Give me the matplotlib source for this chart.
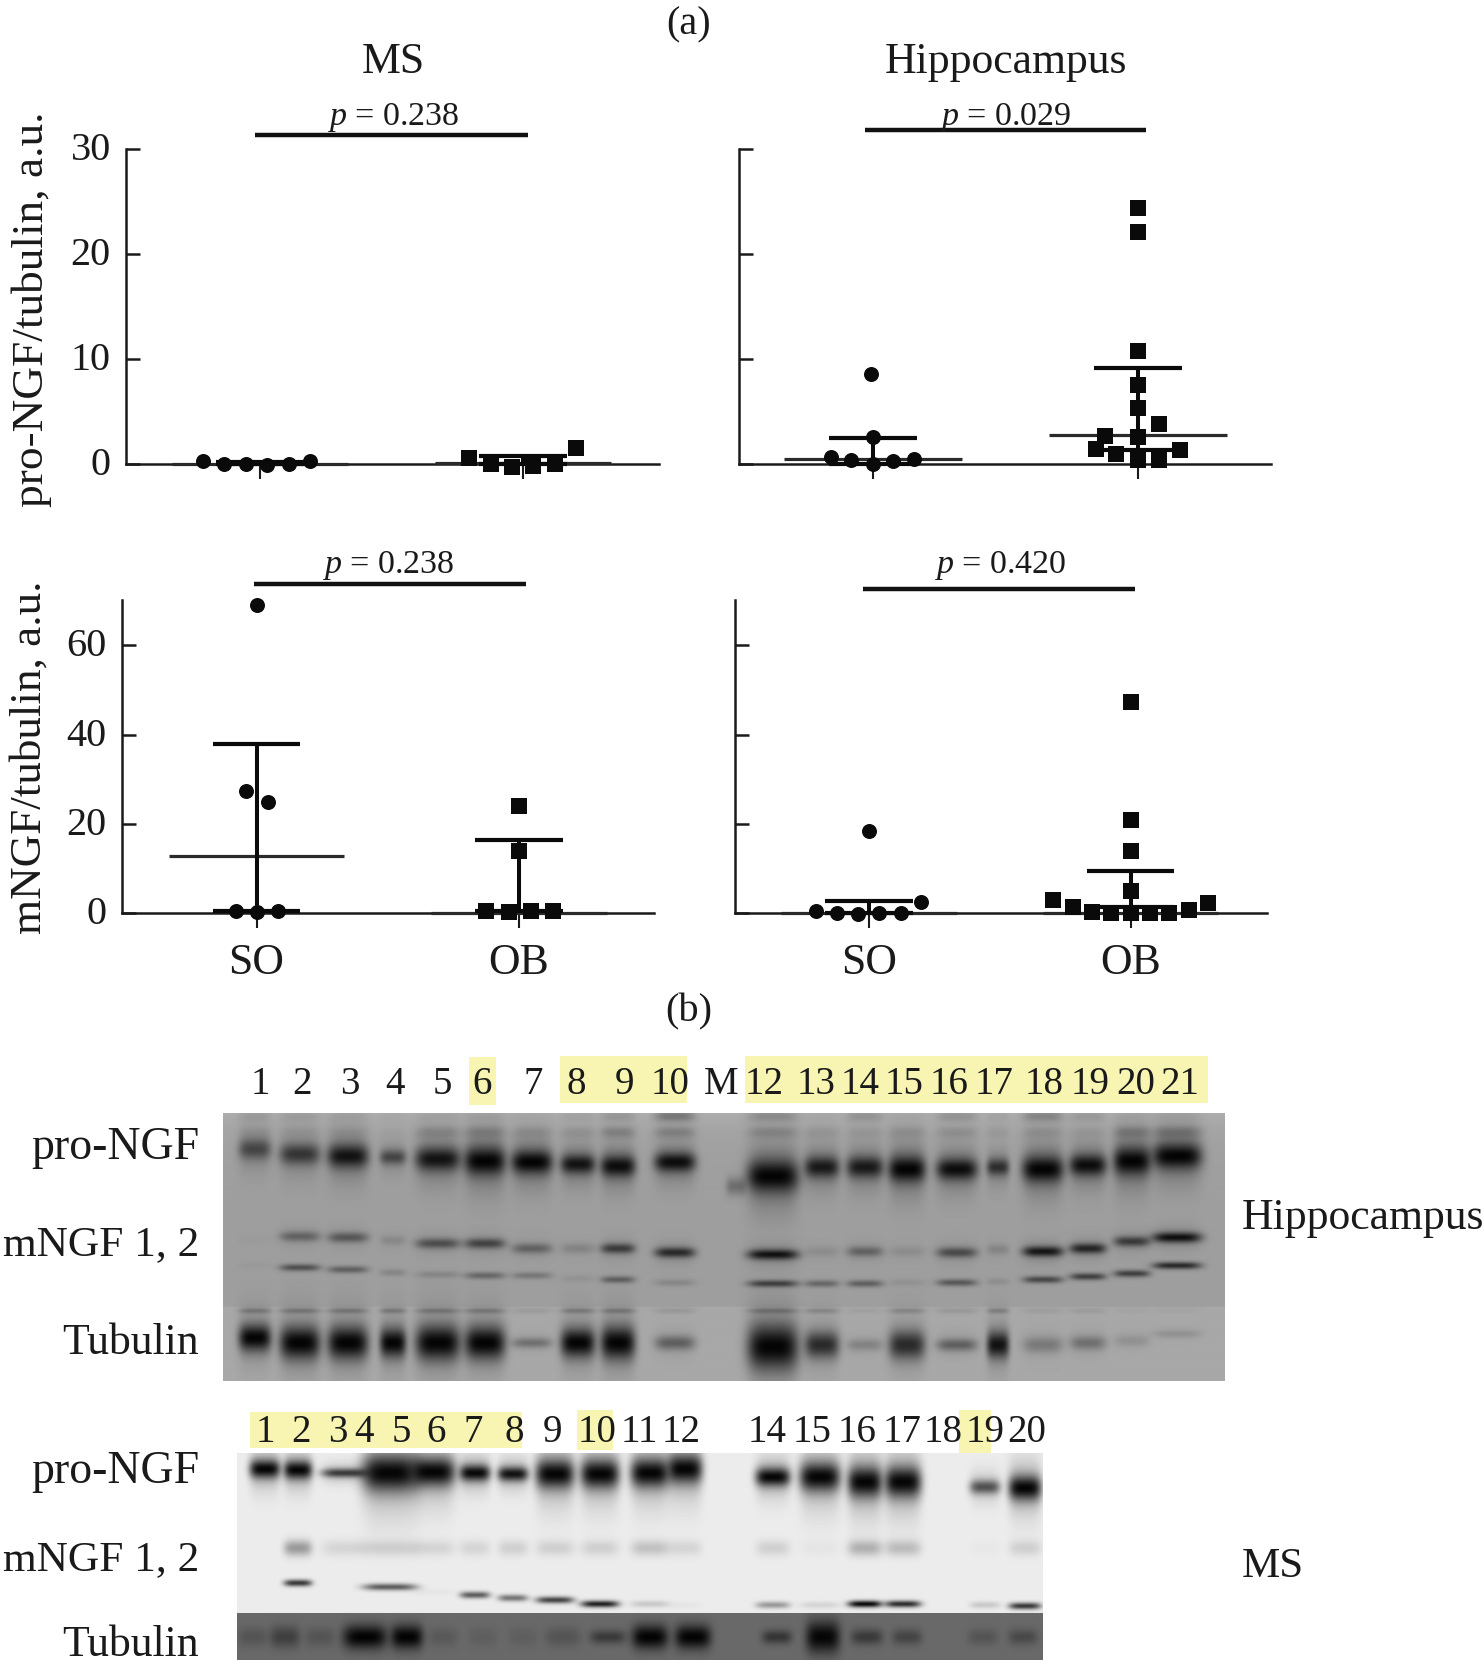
import numpy as np
import matplotlib
matplotlib.use("Agg")
import matplotlib.pyplot as plt
from matplotlib.lines import Line2D
from matplotlib.patches import Rectangle
from matplotlib.transforms import ScaledTranslation

W, H = 1484, 1670

plt.rcParams['font.family'] = ['Liberation Serif', 'DejaVu Serif']
plt.rcParams['mathtext.fontset'] = 'custom'
plt.rcParams['mathtext.it'] = 'Liberation Serif:italic'
plt.rcParams['mathtext.rm'] = 'Liberation Serif'

# --- scatter data, x is the jitter around the group position ---
groups = ['SO', 'OB']
pro_ticks = [0, 10, 20, 30]
m_ticks = [0, 20, 40, 60]

ms_pro_so_x = [-0.217, -0.137, -0.053, 0.027, 0.11, 0.19]
ms_pro_so_y = [0.3, 0.0, 0.0, -0.1, 0.0, 0.3]
ms_pro_ob_x = [-0.207, -0.122, -0.043, 0.038, 0.122, 0.2]
ms_pro_ob_y = [0.57, 0.03, -0.25, -0.16, 0.03, 1.5]

hip_pro_so_x = [-0.008, 0.0, -0.16, -0.084, 0.0, 0.077, 0.156]
hip_pro_so_y = [8.57, 2.54, 0.67, 0.35, 0.0, 0.25, 0.5]
hip_pro_ob_x = [0, 0, 0, 0, 0, 0, 0, 0.08, 0.08, -0.125, -0.16, -0.082, 0.16]
hip_pro_ob_y = [24.4, 22.06, 10.8, 7.55, 5.37, 2.54, 0.41, 3.8, 0.41, 2.7, 1.46, 0.98, 1.33]

ms_m_so_x = [0.0, -0.04, 0.043, -0.08, 0.0, 0.081]
ms_m_so_y = [69.1, 27.45, 24.8, 0.45, 0.3, 0.45]
ms_m_ob_x = [0.0, 0.0, -0.125, -0.04, 0.044, 0.13]
ms_m_ob_y = [23.9, 13.9, 0.45, 0.3, 0.45, 0.45]

hip_m_so_x = [0.0, 0.198, -0.204, -0.122, -0.041, 0.04, 0.121]
hip_m_so_y = [18.3, 2.47, 0.45, 0.0, -0.2, 0.0, 0.1]
hip_m_ob_x = [0, 0, 0, 0, -0.296, -0.22, -0.148, -0.074, 0, 0.074, 0.148, 0.222, 0.296]
hip_m_ob_y = [47.3, 20.8, 13.9, 4.86, 3.0, 1.35, 0.2, -0.1, -0.1, -0.1, -0.1, 0.75, 2.25]

# centre line, lower whisker, upper whisker for SO then OB
ms_pro_stats = [(0.0, 0.0, 0.2), (0.1, 0.0, 0.8)]
hip_pro_stats = [(0.5, 0.0, 2.5), (2.73, 1.3, 9.17)]
ms_m_stats = [(12.86, 0.4, 38.0), (0.0, 0.4, 16.45)]
hip_m_stats = [(0.0, 0.0, 2.6), (0.0, 1.4, 9.5)]

p_values = ['0.238', '0.029', '0.238', '0.420']

# --- western blot data, darkness of each band per lane (0 = none, 1 = black) ---
hip_lanes = ['1', '2', '3', '4', '5', '6', '7', '8', '9', '10', 'M', '12', '13', '14', '15', '16', '17', '18', '19', '20', '21']
ms_lanes = ['1', '2', '3', '4', '5', '6', '7', '8', '9', '10', '11', '12', '14', '15', '16', '17', '18', '19', '20']

hip_x = [255, 300, 348, 393, 438, 485, 532, 578, 618, 675, 773, 822, 865, 907, 957, 998, 1043, 1088, 1132, 1177]
hip_w = [16, 20, 20, 13, 22, 20, 20, 17, 17, 20, 25, 17, 18, 18, 20, 11, 20, 18, 18, 24]
hip_pro_y = [1150, 1155, 1157, 1158, 1160, 1162, 1163, 1165, 1167, 1163, 1177, 1168, 1168, 1170, 1170, 1168, 1170, 1166, 1162, 1157]
hip_pro_d = [.5, .6, .85, .5, .85, 1.0, .97, .85, .9, .9, 1.0, .8, .8, 1.0, .9, .65, 1.0, .9, 1.0, .97]
hip_pro_s = [10, 10, 11, 7, 11, 13, 11, 9, 10, 9, 15, 10, 10, 12, 10, 8, 12, 10, 13, 12]
hip_up1_d = [.05, .05, .05, .02, .14, .16, .1, .1, .2, .2, .16, .08, .07, .1, .12, .07, .1, .06, .2, .22]
hip_up2_d = [.08, .08, .06, .03, .05, .05, .03, .06, .12, .3, .18, .03, .14, .03, .14, .05, .22, .1, .04, .05]
hip_m1_y = [1240, 1237, 1238, 1241, 1244, 1244, 1249, 1249, 1249, 1253, 1255, 1252, 1252, 1252, 1253, 1250, 1252, 1249, 1242, 1238]
hip_m1_d = [.02, .35, .42, .12, .48, .55, .35, .15, .6, .72, .88, .1, .35, .1, .5, .15, .85, .75, .6, .9]
hip_m2_y = [1266, 1268, 1270, 1273, 1275, 1276, 1276, 1279, 1280, 1283, 1284, 1284, 1284, 1283, 1283, 1282, 1280, 1277, 1274, 1266]
hip_m2_d = [.03, .5, .4, .15, .15, .35, .25, .07, .4, .15, .6, .35, .4, .08, .45, .1, .55, .6, .6, .75]
hip_tub_y = [1338, 1343, 1343, 1343, 1343, 1343, 1343, 1343, 1343, 1343, 1347, 1345, 1345, 1345, 1345, 1345, 1345, 1343, 1341, 1334]
hip_tub_d = [1.0, 1.0, 1.0, 1.0, 1.0, .97, .3, .97, 1.0, .4, 1.0, .72, .2, .72, .4, .88, .25, .3, .12, .12]
hip_tub_s = [13, 16, 16, 14, 17, 16, 5, 14, 16, 7, 22, 13, 6, 14, 6, 13, 8, 7, 6, 4]

ms_x = [265, 298, 345, 390, 433, 475, 513, 555, 600, 650, 685, 773, 820, 865, 903, 985, 1025]
ms_w = [15, 14, 23, 27, 22, 15, 15, 19, 19, 19, 17, 17, 20, 17, 18, 15, 16]
ms_pro_y = [1469, 1470, 1473, 1473, 1472, 1473, 1474, 1474, 1474, 1473, 1469, 1477, 1477, 1482, 1482, 1487, 1488]
ms_pro_d = [.97, .97, .7, 1.0, 1.0, .95, .9, 1.0, 1.0, 1.0, 1.0, .97, 1.0, 1.0, 1.0, .6, 1.0]
ms_pro_s = [9, 9, 4.5, 18, 14, 8, 7, 14, 14, 14, 14, 9, 14, 15, 15, 7, 12]
ms_m1_d = [.0, .35, .1, .12, .1, .1, .12, .12, .12, .18, .1, .12, .03, .25, .2, .02, .12]
ms_m2_y = [1590, 1583, 1590, 1587, 1592, 1595, 1598, 1600, 1604, 1604, 1605, 1605, 1605, 1604, 1604, 1605, 1606]
ms_m2_d = [.0, .75, .0, .6, .03, .6, .5, .7, .85, .15, .03, .35, .1, .95, .8, .15, .75]

ms_tub_x = [253, 285, 320, 365, 407, 443, 483, 523, 563, 608, 650, 693, 777, 823, 867, 907, 983, 1023]
ms_tub_w = [15, 15, 15, 22, 16, 15, 15, 15, 18, 18, 18, 18, 15, 17, 16, 15, 15, 15]
ms_tub_d = [.2, .4, .2, 1.0, 1.0, .15, .1, .1, .2, .45, 1.0, 1.0, .5, .95, .45, .35, .2, .3]
ms_tub_s = [10, 11, 10, 12, 12, 10, 10, 10, 10, 7, 12, 12, 7, 16, 8, 8, 8, 8]


def fx(px):
    return px / W


def fy(py):
    return 1 - py / H


fig = plt.figure(figsize=(W / 100, H / 100), dpi=100)


def label(px, py, s, size, ha='center', va='center', **kw):
    fig.text(fx(px), fy(py), s, fontsize=size, ha=ha, va=va, color='#1a1a1a', **kw)


# --- scatter panels ---
def panel(left, right, top, bottom, c1, c2, ymax, ticks, show_y, show_x,
          so_x, so_y, ob_x, ob_y, stats):
    ax = fig.add_axes([fx(left), fy(bottom), (right - left) / W, (bottom - top) / H])
    unit = c2 - c1
    ax.set_xlim(1 - (c1 - left) / unit, 2 + (right - c2) / unit)
    ax.set_ylim(0, ymax)
    for s in ['top', 'right']:
        ax.spines[s].set_visible(False)
    for s in ['left', 'bottom']:
        ax.spines[s].set_linewidth(1.8)
        ax.spines[s].set_color('#1a1a1a')

    ax.set_yticks(ticks)
    ax.set_yticklabels([str(t) for t in ticks] if show_y else [''] * len(ticks))
    ax.tick_params(axis='y', direction='in', length=10, width=1.8, pad=11,
                   labelsize=29, color='#1a1a1a', labelcolor='#1a1a1a')
    ax.set_xticks([1, 2])
    ax.set_xticklabels(groups if show_x else ['', ''])
    ax.tick_params(axis='x', direction='out', length=10.5, width=1.5, pad=11,
                   labelsize=31.5, color='#1a1a1a', labelcolor='#1a1a1a')
    lift = ScaledTranslation(0, 3 / 100, fig.dpi_scale_trans)
    for lab in ax.get_yticklabels():
        lab.set_transform(lab.get_transform() + lift)

    for i, (mid, low, high) in enumerate(stats):
        pos = i + 1
        ax.hlines(mid, pos - 0.335, pos + 0.335, color='#2a2a2a', lw=2.3, clip_on=False, zorder=3)
        ax.errorbar([pos], [mid], yerr=[[mid - low if mid > low else 0], [high - mid]],
                    color='#0a0a0a', lw=2.9, capsize=0, clip_on=False, zorder=3)
        ax.hlines([low, high], pos - 0.167, pos + 0.167, color='#0a0a0a', lw=3.0, clip_on=False, zorder=3)

    ax.plot(1 + np.array(so_x), so_y, 'o', color='#0a0a0a', ms=10.8, mew=0, clip_on=False, zorder=4)
    ax.plot(2 + np.array(ob_x), ob_y, 's', color='#0a0a0a', ms=11.3, mew=0, clip_on=False, zorder=4)
    return ax


panel(126, 659, 149, 464, 260, 523, 30, pro_ticks, True, False,
      ms_pro_so_x, ms_pro_so_y, ms_pro_ob_x, ms_pro_ob_y, ms_pro_stats)
panel(739, 1271, 149, 464, 873, 1138, 30, pro_ticks, False, False,
      hip_pro_so_x, hip_pro_so_y, hip_pro_ob_x, hip_pro_ob_y, hip_pro_stats)
panel(122, 654, 600, 913, 256.5, 519, 70.2, m_ticks, True, True,
      ms_m_so_x, ms_m_so_y, ms_m_ob_x, ms_m_ob_y, ms_m_stats)
panel(734.5, 1267, 600, 913, 869, 1130.5, 70.2, m_ticks, False, True,
      hip_m_so_x, hip_m_so_y, hip_m_ob_x, hip_m_ob_y, hip_m_stats)

# significance bars and p values
sig_x1 = [254.6, 865, 254, 862.7]
sig_x2 = [527.7, 1145.7, 526, 1135]
sig_y = [135, 130, 584, 589]
p_x = [393, 1005, 388.5, 1000]
p_y = [125, 125, 573, 573]
for x1, x2, y, px, py, pv in zip(sig_x1, sig_x2, sig_y, p_x, p_y, p_values):
    fig.add_artist(Line2D([fx(x1), fx(x2)], [fy(y), fy(y)], color='#111111', lw=3.2,
                          solid_capstyle='butt', transform=fig.transFigure))
    label(px, py, r'$\mathit{p}$ = ' + pv, 24.5, va='baseline')

label(688.6, 25, '(a)', 29)
label(688.6, 1012, '(b)', 29)
label(393, 62, 'MS', 31.5)
label(1006, 62, 'Hippocampus', 31.5)
label(32, 309, 'pro-NGF/tubulin, a.u.', 32.7, rotation=90)
label(30, 757.5, 'mNGF/tubulin, a.u.', 32.5, rotation=90)


# --- blots ---
def draw_bands(T, X, Y, xs, ys, ds, ws, sig, halo=0.0):
    for i in range(len(xs)):
        s = sig[i] if np.ndim(sig) else sig
        y = ys[i] if np.ndim(ys) else ys
        across = np.exp(-((X - xs[i]) / ws[i]) ** 4)
        T *= 1 - min(ds[i], 0.97) * across * np.exp(-((Y - y) / s) ** 2)
        if halo:
            T *= 1 - halo * ds[i] * across * np.exp(-((Y - y) / (s * 2.4)) ** 2)


def blot_axes(left, right, top, bottom):
    X, Y = np.meshgrid(np.arange(left, right) + 0.5, np.arange(top, bottom) + 0.5)
    ax = fig.add_axes([fx(left), fy(bottom), (right - left) / W, (bottom - top) / H])
    ax.axis('off')
    return ax, X, Y, np.ones_like(X, dtype=float)


# hippocampus
ax, X, Y, T = blot_axes(223, 1225, 1113, 1381)
draw_bands(T, X, Y, hip_x, hip_pro_y, hip_pro_d, hip_w, hip_pro_s, halo=0.3)
draw_bands(T, X, Y, hip_x, 1133, hip_up1_d, hip_w, 6)
draw_bands(T, X, Y, hip_x, 1117, hip_up2_d, hip_w, 6)
draw_bands(T, X, Y, hip_x, hip_m1_y, hip_m1_d, hip_w, 5, halo=0.15)
draw_bands(T, X, Y, hip_x, hip_m2_y, hip_m2_d, hip_w, 3.5)
draw_bands(T, X, Y, hip_x, hip_tub_y, hip_tub_d, hip_w, hip_tub_s, halo=0.15)
draw_bands(T, X, Y, hip_x, 1311, [d * 0.25 for d in hip_tub_d], hip_w, 3)
draw_bands(T, X, Y, [736], [1187], [.3], [10], 9)
bg = np.where(Y < 1307, 158.0, 168.0) + 16 * np.exp(-(Y - 1113) / 22.0) * (Y < 1307)
ax.imshow(bg * T, cmap='gray', vmin=0, vmax=255, aspect='auto', interpolation='bilinear')

# medial septum
ax, X, Y, T = blot_axes(237, 1043, 1453, 1660)
draw_bands(T, X, Y, ms_x, ms_pro_y, ms_pro_d, ms_w, ms_pro_s, halo=0.25)
draw_bands(T, X, Y, ms_x, 1548, ms_m1_d, ms_w, 8)
draw_bands(T, X, Y, ms_x, ms_m2_y, ms_m2_d, ms_w, 3.5)
T_tub = np.ones_like(T)
draw_bands(T_tub, X, Y, ms_tub_x, 1637, ms_tub_d, ms_tub_w, ms_tub_s)
img = np.where(Y < 1613, 236.0 * T, 105.0 * T_tub)
ax.imshow(img, cmap='gray', vmin=0, vmax=255, aspect='auto', interpolation='bilinear')

# yellow highlights behind the lane numbers
hl_x = [469, 560, 745, 250, 577, 959]
hl_w = [27, 127, 463, 272, 36, 32]
hl_y = [1057, 1056, 1056, 1412, 1410, 1410]
hl_h = [48, 47, 47, 36, 40, 44]
for x, w, y, h in zip(hl_x, hl_w, hl_y, hl_h):
    fig.add_artist(Rectangle((fx(x), fy(y + h)), w / W, h / H, color='#f7f5b1', lw=0,
                             transform=fig.transFigure, zorder=-1))

hip_label_x = [260, 302, 350, 395, 442, 482, 533, 576, 624, 670, 721, 764, 816, 860, 904, 949, 994, 1044, 1090, 1136, 1180]
ms_label_x = [265, 301, 338, 364, 401, 436, 473, 514, 553, 597, 639, 681, 767, 812, 857, 902, 943, 985, 1027]
for x, s in zip(hip_label_x, hip_lanes):
    label(x, 1084, s, 28)
for x, s in zip(ms_label_x, ms_lanes):
    label(x, 1433, s, 28)

row_y = [1148, 1245, 1343, 1472, 1560, 1645]
row_names = ['pro-NGF', 'mNGF 1, 2', 'Tubulin', 'pro-NGF', 'mNGF 1, 2', 'Tubulin']
row_size = [33, 31.2, 31.5, 33, 31.2, 31.5]
for y, s, fs in zip(row_y, row_names, row_size):
    label(199, y, s, fs, ha='right')
label(1242, 1218, 'Hippocampus', 31.5, ha='left')
label(1242, 1567, 'MS', 31, ha='left')

fig.savefig('out.png', dpi=100, facecolor='white')
